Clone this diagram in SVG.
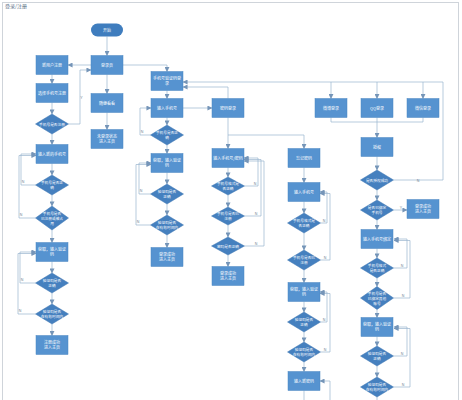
<svg xmlns="http://www.w3.org/2000/svg" width="462" height="400" viewBox="0 0 462 400">
<defs>
<style>
.b{fill:#5693d0;stroke:#4a86c2;stroke-width:0.5}
.d{fill:#4580bf;stroke:#3f77b2;stroke-width:0.5}
.s{fill:#3f7dbe}
.t{font-family:"Noto Sans CJK SC","Noto Sans",sans-serif;font-size:4px;fill:#ffffff;text-anchor:middle}
.d+.t,.d~.t{font-size:3.7px}
.l{fill:none;stroke:#9ab4cf;stroke-width:0.7}
.a{marker-end:url(#ar)}
.n{font-family:"Liberation Sans",sans-serif;font-size:3.6px;fill:#6d7f92;text-anchor:middle}
</style>
<marker id="ar" viewBox="0 0 6 6" refX="5.5" refY="3" markerWidth="5" markerHeight="5" orient="auto" markerUnits="userSpaceOnUse">
<path d="M0,0 L6,3 L0,6 Z" fill="#7595b8"/>
</marker>
</defs>
<rect x="0" y="0" width="462" height="400" fill="#ffffff"/>
<rect x="2.5" y="2.5" width="456" height="402" fill="none" stroke="#cfd4da" stroke-width="1"/>
<text x="5" y="8" font-family="'Noto Sans CJK SC',sans-serif" font-size="5" fill="#5a6f86">登录/注册</text>

<g id="connectors">
<path class="l a" d="M107,36.5 V55.5"/>
<path class="l a" d="M91,65 H68"/>
<path class="l a" d="M107,74.5 V93.5"/>
<path class="l a" d="M107,112.5 V129.5"/>
<path class="l a" d="M123,65 H167 V71.5"/>
<path class="l a" d="M52,74.5 V83.5"/>
<path class="l a" d="M52,102.5 V114"/>
<path class="l a" d="M52,134 V144.5"/>
<path class="l a" d="M68.5,124 H80 V70 H91"/>
<path class="l a" d="M52,163.5 V175"/>
<path class="l a" d="M52,195 V206"/>
<path class="l a" d="M52,230 V242.5"/>
<path class="l a" d="M52,261.5 V273"/>
<path class="l a" d="M52,293 V304"/>
<path class="l a" d="M52,324 V335.5"/>
<path class="l a" d="M35.5,185 H21 V154 H36"/>
<path class="l a" d="M35.5,218 H19 V155.5 H36"/>
<path class="l a" d="M35.5,283 H20 V252 H36"/>
<path class="l a" d="M35.5,314 H18 V253.5 H36"/>

<path class="l a" d="M167,90.5 V98.5"/>
<path class="l a" d="M167,117.5 V125"/>
<path class="l a" d="M167,145 V153.5"/>
<path class="l a" d="M167,172.5 V184"/>
<path class="l a" d="M167,204 V215"/>
<path class="l a" d="M167,235 V247.5"/>
<path class="l a" d="M150.5,135 H140 V108 H151"/>
<path class="l a" d="M150.5,194 H139 V163 H151"/>
<path class="l a" d="M150.5,225 H136 V164.5 H151"/>
<path class="l a" d="M183,108 H212"/>
<path class="l a" d="M393.5,180 H443 V82 H183"/>
<path class="l a" d="M331,82 V98.5"/>
<path class="l a" d="M377,82 V98.5"/>
<path class="l a" d="M423,82 V98.5"/>
<path class="l a" d="M228,98.5 V87 H183"/>

<path class="l a" d="M228,117.5 V148.5"/>
<path class="l a" d="M228,135 H304 V148.5"/>
<path class="l a" d="M228,167.5 V177"/>
<path class="l a" d="M228,195 V207"/>
<path class="l a" d="M228,225 V237"/>
<path class="l a" d="M228,255 V266.5"/>
<path class="l a" d="M244.5,186 H258 V158 H244"/>
<path class="l a" d="M244.5,216 H261 V159.5 H244"/>
<path class="l a" d="M244.5,246 H264 V161 H244"/>

<path class="l a" d="M304,167.5 V182.5"/>
<path class="l a" d="M304,201.5 V213"/>
<path class="l a" d="M304,233 V250"/>
<path class="l a" d="M304,270 V282.5"/>
<path class="l a" d="M304,301.5 V312"/>
<path class="l a" d="M304,332 V342"/>
<path class="l a" d="M304,362 V371.5"/>
<path class="l" d="M304,390.5 V402"/>
<path class="l a" d="M320.5,223 H327 V192 H320"/>
<path class="l a" d="M320.5,260 H330 V193.5 H320"/>
<path class="l a" d="M320.5,322 H327 V292 H320"/>
<path class="l a" d="M320.5,352 H330 V293.5 H320"/>
<path class="l a" d="M330,402 V381 H320"/>

<path class="l" d="M331,117.5 V122 H423 V117.5"/>
<path class="l a" d="M377,117.5 V137.5"/>
<path class="l a" d="M377,156.5 V170"/>
<path class="l a" d="M377,190 V200"/>
<path class="l a" d="M393.5,210 H407"/>
<path class="l a" d="M377,220 V229.5"/>
<path class="l a" d="M377,248.5 V258"/>
<path class="l a" d="M377,278 V286.5"/>
<path class="l a" d="M377,309.5 V317.5"/>
<path class="l a" d="M377,336.5 V346"/>
<path class="l a" d="M377,366 V377"/>
<path class="l" d="M377,397 V402"/>
<path class="l a" d="M393.5,268 H407 V239 H394"/>
<path class="l a" d="M393.5,298 H410 V240.5 H394"/>
<path class="l a" d="M393.5,356 H407 V327 H394"/>
<path class="l a" d="M393.5,387 H410 V328.5 H394"/>

<text class="n" x="81.5" y="99">Y</text>
<text class="n" x="23" y="183">N</text>
<text class="n" x="21" y="216">N</text>
<text class="n" x="22" y="281">N</text>
<text class="n" x="20" y="312">N</text>
<text class="n" x="142" y="133">N</text>
<text class="n" x="141" y="192">N</text>
<text class="n" x="138" y="223">N</text>
<text class="n" x="255" y="184.5">N</text>
<text class="n" x="256" y="214.5">N</text>
<text class="n" x="256" y="244.5">N</text>
<text class="n" x="324" y="221.5">N</text>
<text class="n" x="325" y="258.5">N</text>
<text class="n" x="324" y="320.5">N</text>
<text class="n" x="325" y="350.5">N</text>
<text class="n" x="418" y="182">N</text>
<text class="n" x="401" y="208.5">Y</text>
<text class="n" x="402" y="266.5">N</text>
<text class="n" x="403" y="296.5">N</text>
<text class="n" x="402" y="354.5">N</text>
<text class="n" x="403" y="385.5">N</text>
</g>

<g id="start"><rect class="s" x="91" y="23.5" width="32" height="13" rx="6.5"/><text class="t" x="107" y="31.5">开始</text></g>
<g id="login-page"><rect class="b" x="91" y="55.5" width="32" height="19"/><text class="t" x="107" y="66.5">登录页</text></g>
<g id="browse"><rect class="b" x="91" y="93.5" width="32" height="19"/><text class="t" x="107" y="104.5">随便看看</text></g>
<g id="guest-home"><rect class="b" x="91" y="129.5" width="32" height="19"/><text class="t" x="107" y="138">未登录状态</text><text class="t" x="107" y="143">进入主页</text></g>

<g id="reg"><rect class="b" x="36" y="55.5" width="32" height="19"/><text class="t" x="52" y="66.5">新用户注册</text></g>
<g id="reg-way"><rect class="b" x="36" y="83.5" width="32" height="19"/><text class="t" x="52" y="94.5">选择手机号注册</text></g>
<g id="reg-d1"><polygon class="d" points="52,114 68.5,124 52,134 35.5,124"/><text class="t" x="52" y="125.5">手机号是否注册</text></g>
<g id="reg-phone"><rect class="b" x="36" y="144.5" width="32" height="19"/><text class="t" x="52" y="155.5">输入新的手机号</text></g>
<g id="reg-d2"><polygon class="d" points="52,175 68.5,185 52,195 35.5,185"/><text class="t" x="52" y="184">手机号是否正</text><text class="t" x="52" y="189">确</text></g>
<g id="reg-d3"><polygon class="d" points="52,206 68.5,218 52,230 35.5,218"/><text class="t" x="52" y="214.5">手机号是否</text><text class="t" x="52" y="219.5">已注册或被占</text><text class="t" x="52" y="224.5">用</text></g>
<g id="reg-code"><rect class="b" x="36" y="242.5" width="32" height="19"/><text class="t" x="52" y="251">获取，输入验证</text><text class="t" x="52" y="256">码</text></g>
<g id="reg-d4"><polygon class="d" points="52,273 68.5,283 52,293 35.5,283"/><text class="t" x="52" y="282">验证码是否</text><text class="t" x="52" y="287">正确</text></g>
<g id="reg-d5"><polygon class="d" points="52,304 68.5,314 52,324 35.5,314"/><text class="t" x="52" y="313">验证码是否</text><text class="t" x="52" y="318">在有效时间内</text></g>
<g id="reg-ok"><rect class="b" x="36" y="335.5" width="32" height="19"/><text class="t" x="52" y="344">注册成功</text><text class="t" x="52" y="349">进入主页</text></g>

<g id="sms"><rect class="b" x="151" y="71.5" width="32" height="19"/><text class="t" x="167" y="80">手机号验证码登</text><text class="t" x="167" y="85">录</text></g>
<g id="sms-phone"><rect class="b" x="151" y="98.5" width="32" height="19"/><text class="t" x="167" y="109.5">输入手机号</text></g>
<g id="sms-d1"><polygon class="d" points="167,125 183.5,135 167,145 150.5,135"/><text class="t" x="167" y="134">手机号是否正</text><text class="t" x="167" y="139">确</text></g>
<g id="sms-code"><rect class="b" x="151" y="153.5" width="32" height="19"/><text class="t" x="167" y="162">获取，输入验证</text><text class="t" x="167" y="167">码</text></g>
<g id="sms-d2"><polygon class="d" points="167,184 183.5,194 167,204 150.5,194"/><text class="t" x="167" y="193">验证码是否</text><text class="t" x="167" y="198">正确</text></g>
<g id="sms-d3"><polygon class="d" points="167,215 183.5,225 167,235 150.5,225"/><text class="t" x="167" y="224">验证码是否</text><text class="t" x="167" y="229">在有效时间内</text></g>
<g id="sms-ok"><rect class="b" x="151" y="247.5" width="32" height="19"/><text class="t" x="167" y="256">登录成功</text><text class="t" x="167" y="261">进入主页</text></g>

<g id="pwd"><rect class="b" x="212" y="98.5" width="32" height="19"/><text class="t" x="228" y="109.5">密码登录</text></g>
<g id="pwd-input"><rect class="b" x="212" y="148.5" width="32" height="19"/><text class="t" x="228" y="159.5">输入手机号/密码</text></g>
<g id="pwd-d1"><polygon class="d" points="228,177 244.5,186 228,195 211.5,186"/><text class="t" x="228" y="185">手机号格式是</text><text class="t" x="228" y="190">否正确</text></g>
<g id="pwd-d2"><polygon class="d" points="228,207 244.5,216 228,225 211.5,216"/><text class="t" x="228" y="215">手机号是否已</text><text class="t" x="228" y="220">注册</text></g>
<g id="pwd-d3"><polygon class="d" points="228,237 244.5,246 228,255 211.5,246"/><text class="t" x="228" y="247.5">密码是否正确</text></g>
<g id="pwd-ok"><rect class="b" x="212" y="266.5" width="32" height="19"/><text class="t" x="228" y="275">登录成功</text><text class="t" x="228" y="280">进入主页</text></g>

<g id="forget"><rect class="b" x="288" y="148.5" width="32" height="19"/><text class="t" x="304" y="159.5">忘记密码</text></g>
<g id="fg-phone"><rect class="b" x="288" y="182.5" width="32" height="19"/><text class="t" x="304" y="193.5">输入手机号</text></g>
<g id="fg-d1"><polygon class="d" points="304,213 320.5,223 304,233 287.5,223"/><text class="t" x="304" y="222">手机号格式是</text><text class="t" x="304" y="227">否正确</text></g>
<g id="fg-d2"><polygon class="d" points="304,250 320.5,260 304,270 287.5,260"/><text class="t" x="304" y="259">手机号是否已</text><text class="t" x="304" y="264">注册</text></g>
<g id="fg-code"><rect class="b" x="288" y="282.5" width="32" height="19"/><text class="t" x="304" y="291">获取，输入验证</text><text class="t" x="304" y="296">码</text></g>
<g id="fg-d3"><polygon class="d" points="304,312 320.5,322 304,332 287.5,322"/><text class="t" x="304" y="321">验证码是否</text><text class="t" x="304" y="326">正确</text></g>
<g id="fg-d4"><polygon class="d" points="304,342 320.5,352 304,362 287.5,352"/><text class="t" x="304" y="351">验证码是否</text><text class="t" x="304" y="356">在有效时间内</text></g>
<g id="fg-newpwd"><rect class="b" x="288" y="371.5" width="32" height="19"/><text class="t" x="304" y="382.5">输入新密码</text></g>

<g id="weibo"><rect class="b" x="315" y="98.5" width="32" height="19"/><text class="t" x="331" y="109.5">微博登录</text></g>
<g id="qq"><rect class="b" x="361" y="98.5" width="32" height="19"/><text class="t" x="377" y="109.5">QQ登录</text></g>
<g id="wechat"><rect class="b" x="407" y="98.5" width="32" height="19"/><text class="t" x="423" y="109.5">微信登录</text></g>
<g id="auth"><rect class="b" x="361" y="137.5" width="32" height="19"/><text class="t" x="377" y="148.5">授权</text></g>
<g id="auth-d1"><polygon class="d" points="377,170 393.5,180 377,190 360.5,180"/><text class="t" x="377" y="181.5">是否授权成功</text></g>
<g id="auth-d2"><polygon class="d" points="377,200 393.5,210 377,220 360.5,210"/><text class="t" x="377" y="209">是否已绑定</text><text class="t" x="377" y="214">手机号</text></g>
<g id="auth-ok"><rect class="b" x="407" y="199.5" width="32" height="19"/><text class="t" x="423" y="208">登录成功</text><text class="t" x="423" y="213">进入主页</text></g>
<g id="bind-phone"><rect class="b" x="361" y="229.5" width="32" height="19"/><text class="t" x="377" y="240.5">输入手机号绑定</text></g>
<g id="bind-d1"><polygon class="d" points="377,258 393.5,268 377,278 360.5,268"/><text class="t" x="377" y="267">手机号格式</text><text class="t" x="377" y="272">是否正确</text></g>
<g id="bind-d2"><polygon class="d" points="377,286.5 393.5,298 377,309.5 360.5,298"/><text class="t" x="377" y="294.5">手机号是否</text><text class="t" x="377" y="299.5">已绑定其他</text><text class="t" x="377" y="304.5">账号</text></g>
<g id="bind-code"><rect class="b" x="361" y="317.5" width="32" height="19"/><text class="t" x="377" y="326">获取，输入验证</text><text class="t" x="377" y="331">码</text></g>
<g id="bind-d3"><polygon class="d" points="377,346 393.5,356 377,366 360.5,356"/><text class="t" x="377" y="355">验证码是否</text><text class="t" x="377" y="360">正确</text></g>
<g id="bind-d4"><polygon class="d" points="377,377 393.5,387 377,397 360.5,387"/><text class="t" x="377" y="386">验证码是否</text><text class="t" x="377" y="391">在有效时间内</text></g>
</svg>
